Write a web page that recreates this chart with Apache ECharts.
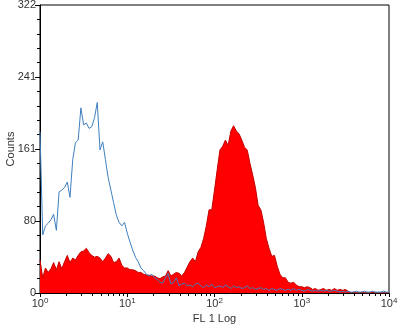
<!DOCTYPE html>
<html>
<head>
<meta charset="utf-8">
<script src="https://cdn.jsdelivr.net/npm/echarts@6/dist/echarts.min.js"></script>
<style>
  html, body { margin: 0; padding: 0; background: #fff; }
  #main { width: 400px; height: 328px; }
</style>
</head>
<body>
<div id="main"></div>
<script>
// 32 channels per decade, channel i sits at log10(FL1) = i / 32
const perDecade = 32
const decades = [0, 1, 2, 3, 4]

// stained sample (red, filled)
const stained = [
  37, 17, 28, 23, 27, 34, 26, 35, 27, 35, 42, 34, 39, 37, 42, 46,
  47, 50, 45, 42, 40, 41, 39, 35, 39, 44, 41, 34, 35, 39, 31, 28,
  28, 26, 26, 25, 23, 23, 21, 20, 20, 19, 19, 17, 16, 18, 19, 25,
  19, 21, 23, 22, 19, 23, 29, 35, 39, 35, 46, 51, 61, 75, 93, 93,
  115, 138, 160, 164, 171, 165, 181, 187, 181, 178, 171, 163, 160, 145, 132, 118,
  98, 93, 79, 61, 50, 41, 42, 30, 21, 17, 17, 12, 11, 12, 9, 7,
  7, 6, 7, 6, 4, 5, 3, 4, 5, 3, 4, 3, 5, 3, 4, 3,
  4, 2, 0, 1, 0, 0, 1, 0, 0, 0, 1, 0, 0, 0, 0, 0, 0
]

// isotype control (blue line)
const control = [
  180, 65, 75, 78, 82, 88, 70, 113, 115, 118, 124, 107, 149, 168, 171, 207,
  188, 190, 184, 186, 196, 213, 160, 169, 149, 129, 115, 101, 87, 79, 75, 79,
  67, 57, 48, 40, 35, 28, 25, 21, 19, 21, 17, 15, 12, 11, 17, 22,
  10, 12, 17, 8, 10, 11, 8, 9, 7, 10, 11, 8, 6, 9, 7, 10,
  6, 7, 8, 6, 9, 7, 5, 8, 6, 7, 5, 6, 8, 5, 6, 4,
  5, 6, 4, 5, 3, 5, 4, 3, 5, 4, 3, 4, 3, 5, 3, 4,
  3, 2, 4, 3, 2, 3, 2, 3, 2, 3, 2, 2, 3, 2, 1, 2,
  1, 2, 1, 1, 2, 1, 1, 2, 1, 1, 2, 1, 1, 1, 2, 1, 1
]

const minorTicks = []
for (let d = 0; d < 4; d++) {
    for (let k = 2; k <= 9; k++) minorTicks.push(d + Math.log10(k))
}

const toPoints = arr => arr.map((v, i) => [i / perDecade, v])

const chart = echarts.init(document.getElementById('main'))
chart.setOption({
    animation: false,
    textStyle: { fontFamily: 'Liberation Sans, Arial, sans-serif' },
    grid: {
        left: 40,
        right: 11,
        top: 5,
        bottom: 35,
        outerBoundsMode: 'none',
        containLabel: false,
        show: true,
        borderColor: '#000',
        borderWidth: 1
    },
    xAxis: [{
        type: 'value',
        min: 0,
        max: 4,
        position: 'bottom',
        name: 'FL 1 Log',
        nameLocation: 'middle',
        nameGap: 20,
        nameMoveOverlap: false,
        nameTextStyle: { fontSize: 11, color: '#333' },
        axisLine: { lineStyle: { color: '#000' } },
        axisTick: { customValues: decades, length: 4, lineStyle: { color: '#000' } },
        axisLabel: {
            customValues: decades,
            margin: 4,
            formatter: v => '{b|10}{s|' + v + '}',
            rich: {
                b: { fontSize: 11, color: '#333', lineHeight: 14 },
                s: { fontSize: 8, color: '#333', verticalAlign: 'top', lineHeight: 8 }
            }
        },
        splitLine: { show: false }
    }, {
        // minor ticks 2..9 inside every decade
        type: 'value',
        min: 0,
        max: 4,
        position: 'bottom',
        axisLine: { show: false },
        axisTick: { customValues: minorTicks, length: 3, lineStyle: { color: '#000' } },
        axisLabel: { show: false },
        splitLine: { show: false }
    }],
    yAxis: {
        type: 'value',
        min: 0,
        max: 322,
        interval: 80.5,
        name: 'Counts',
        nameLocation: 'middle',
        nameGap: 24,
        nameMoveOverlap: false,
        nameTextStyle: { fontSize: 11, color: '#333' },
        axisLine: { show: true, lineStyle: { color: '#000' } },
        axisTick: { show: true, length: 5, lineStyle: { color: '#000' } },
        minorTick: { show: true, splitNumber: 5, length: 3, lineStyle: { color: '#000' } },
        axisLabel: {
            fontSize: 11,
            color: '#333',
            margin: 4,
            formatter: v => Math.floor(v)
        },
        splitLine: { show: false }
    },
    series: [
        {
            name: 'stained',
            type: 'line',
            data: toPoints(stained),
            showSymbol: false,
            lineStyle: { color: '#c40000', width: 1 },
            areaStyle: { color: '#ff0000', opacity: 1 }
        },
        {
            name: 'control',
            type: 'line',
            data: toPoints(control),
            showSymbol: false,
            lineStyle: { color: '#3f7fbf', width: 1 }
        }
    ]
})
</script>
</body>
</html>
